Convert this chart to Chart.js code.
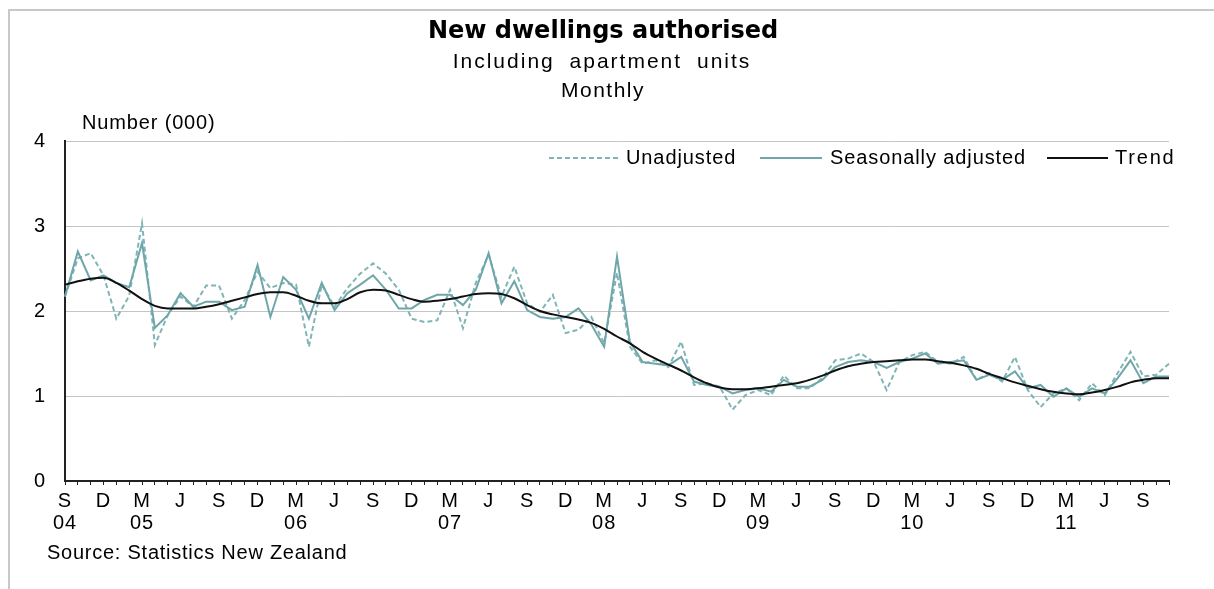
<!DOCTYPE html>
<html>
<head>
<meta charset="utf-8">
<title>New dwellings authorised</title>
<script src="https://cdn.jsdelivr.net/npm/chart.js@4.4.1/dist/chart.umd.min.js"></script>
<style>
  html, body { margin: 0; padding: 0; background: #fff; }
  #wrap { width: 1214px; height: 589px; position: relative; }
</style>
</head>
<body>
<div id="wrap"><canvas id="chart" width="1214" height="589"></canvas></div>
<script>
// Monthly categories, September 2004 to November 2011
const months = [
  '2004-09','2004-10','2004-11','2004-12',
  '2005-01','2005-02','2005-03','2005-04','2005-05','2005-06','2005-07','2005-08','2005-09','2005-10','2005-11','2005-12',
  '2006-01','2006-02','2006-03','2006-04','2006-05','2006-06','2006-07','2006-08','2006-09','2006-10','2006-11','2006-12',
  '2007-01','2007-02','2007-03','2007-04','2007-05','2007-06','2007-07','2007-08','2007-09','2007-10','2007-11','2007-12',
  '2008-01','2008-02','2008-03','2008-04','2008-05','2008-06','2008-07','2008-08','2008-09','2008-10','2008-11','2008-12',
  '2009-01','2009-02','2009-03','2009-04','2009-05','2009-06','2009-07','2009-08','2009-09','2009-10','2009-11','2009-12',
  '2010-01','2010-02','2010-03','2010-04','2010-05','2010-06','2010-07','2010-08','2010-09','2010-10','2010-11','2010-12',
  '2011-01','2011-02','2011-03','2011-04','2011-05','2011-06','2011-07','2011-08','2011-09','2011-10','2011-11'
];

// Dwellings authorised, thousands
const unadjusted = [
  2.17, 2.62, 2.68, 2.42,
  1.91, 2.18, 3.03, 1.60, 1.95, 2.17, 2.05, 2.30, 2.30, 1.91, 2.13, 2.46,
  2.27, 2.33, 2.31, 1.58, 2.31, 2.05, 2.27, 2.44, 2.56, 2.44, 2.25, 1.91,
  1.87, 1.89, 2.25, 1.80, 2.33, 2.66, 2.17, 2.52, 2.09, 1.99, 2.19, 1.74,
  1.78, 1.93, 1.62, 2.45, 1.58, 1.38, 1.42, 1.34, 1.64, 1.13, 1.15, 1.11,
  0.84, 1.01, 1.07, 1.01, 1.24, 1.09, 1.09, 1.21, 1.42, 1.44, 1.50, 1.40,
  1.07, 1.40, 1.48, 1.52, 1.40, 1.38, 1.46, 1.19, 1.27, 1.17, 1.46, 1.07,
  0.87, 1.03, 1.09, 0.95, 1.15, 1.01, 1.27, 1.52, 1.23, 1.25, 1.38
];

const seasonallyAdjusted = [
  2.17, 2.70, 2.36, 2.42,
  2.33, 2.28, 2.80, 1.80, 1.95, 2.21, 2.05, 2.11, 2.11, 2.01, 2.05, 2.54,
  1.93, 2.40, 2.25, 1.91, 2.33, 2.01, 2.21, 2.31, 2.42, 2.25, 2.03, 2.03,
  2.13, 2.19, 2.19, 2.07, 2.25, 2.68, 2.09, 2.35, 2.01, 1.93, 1.91, 1.93,
  2.03, 1.84, 1.58, 2.64, 1.64, 1.40, 1.38, 1.36, 1.46, 1.17, 1.13, 1.11,
  1.03, 1.07, 1.09, 1.05, 1.19, 1.11, 1.11, 1.19, 1.34, 1.40, 1.42, 1.40,
  1.33, 1.40, 1.44, 1.50, 1.38, 1.40, 1.42, 1.19, 1.25, 1.19, 1.29, 1.09,
  1.13, 0.99, 1.09, 0.99, 1.09, 1.03, 1.21, 1.42, 1.15, 1.23, 1.23
];

const trend = [
  2.31, 2.35, 2.38, 2.39,
  2.33, 2.24, 2.14, 2.06, 2.03, 2.03, 2.03, 2.05, 2.08, 2.12, 2.16, 2.20,
  2.22, 2.22, 2.18, 2.12, 2.09, 2.09, 2.14, 2.22, 2.25, 2.24, 2.19, 2.14,
  2.11, 2.12, 2.14, 2.17, 2.20, 2.21, 2.20, 2.15, 2.07, 2.00, 1.96, 1.93,
  1.90, 1.86, 1.79, 1.70, 1.62, 1.52, 1.44, 1.37, 1.30, 1.22, 1.15, 1.10,
  1.08, 1.08, 1.09, 1.11, 1.13, 1.15, 1.19, 1.24, 1.30, 1.35, 1.38, 1.40,
  1.41, 1.42, 1.43, 1.43, 1.41, 1.39, 1.36, 1.32, 1.26, 1.21, 1.16, 1.12,
  1.08, 1.05, 1.03, 1.02, 1.04, 1.07, 1.11, 1.16, 1.19, 1.21, 1.21
];

// Quarter-month letters shown on the time axis; years appear under March
const monthLetters = { '03': 'M', '06': 'J', '09': 'S', '12': 'D' };
const yTicks = [0, 1, 2, 3, 4];

const seriesNames = ['Unadjusted', 'Seasonally adjusted', 'Trend'];
const titleText = 'New dwellings authorised';
const subtitleLines = ['Including apartment units', 'Monthly'];
const unitText = 'Number (000)';
const sourceText = 'Source: Statistics New Zealand';

const FONT = '"Liberation Sans", Arial, Helvetica, sans-serif';
const TITLE_FONT = '"DejaVu Sans", Verdana, sans-serif';

function axisLabel(idx) {
  const [yr, mo] = months[idx].split('-');
  const letter = monthLetters[mo];
  if (!letter) return '';
  if (mo === '03' || idx === 0) return [letter, yr.slice(2)];
  return letter;
}

function drawText(ctx, str, x, y, font, spacing, align, wordGap) {
  ctx.font = font;
  ctx.letterSpacing = spacing;
  ctx.wordSpacing = wordGap || '0px';
  ctx.textAlign = align;
  ctx.textBaseline = 'middle';
  ctx.fillStyle = '#000';
  ctx.fillText(str, x, y);
}

const decor = {
  id: 'decor',
  beforeDraw(chart) {
    const ctx = chart.ctx;
    ctx.fillStyle = '#fff';
    ctx.fillRect(0, 0, chart.width, chart.height);
    ctx.letterSpacing = '1px';
  },
  afterDraw(chart) {
    const ctx = chart.ctx;
    ctx.save();
    // outer frame
    ctx.strokeStyle = '#c8c8c8';
    ctx.lineWidth = 2;
    ctx.beginPath();
    ctx.moveTo(9, chart.height);
    ctx.lineTo(9, 10);
    ctx.lineTo(chart.width, 10);
    ctx.stroke();

    // headings
    drawText(ctx, titleText, 603, 32, 'bold 24px ' + TITLE_FONT, '0px', 'center');
    drawText(ctx, subtitleLines[0], 602, 62, '21px ' + FONT, '2px', 'center', '7px');
    drawText(ctx, subtitleLines[1], 603, 91, '21px ' + FONT, '1.5px', 'center');
    drawText(ctx, unitText, 82, 123, '20px ' + FONT, '0.85px', 'left');
    drawText(ctx, sourceText, 47, 553, '20px ' + FONT, '0.75px', 'left');

    // legend inside the plot area
    const slots = [
      { x0: 549, x1: 620, tx: 626 },
      { x0: 760, x1: 822, tx: 830 },
      { x0: 1047, x1: 1108, tx: 1115 }
    ];
    const ly = 158;
    chart.data.datasets.forEach((ds, i) => {
      const s = slots[i];
      ctx.save();
      ctx.strokeStyle = ds.borderColor;
      ctx.lineWidth = ds.borderWidth;
      ctx.setLineDash(ds.borderDash || []);
      ctx.beginPath();
      ctx.moveTo(s.x0, ly);
      ctx.lineTo(s.x1, ly);
      ctx.stroke();
      ctx.restore();
      drawText(ctx, ds.label, s.tx, ly, '20px ' + FONT, i === 2 ? '1.8px' : '0.9px', 'left');
    });
    ctx.restore();
  }
};

Chart.defaults.font.family = FONT;
Chart.defaults.font.size = 20;
Chart.defaults.color = '#000';

new Chart(document.getElementById('chart'), {
  type: 'line',
  data: {
    labels: months,
    datasets: [
      {
        label: seriesNames[0],
        data: unadjusted,
        borderColor: '#80b4b6',
        borderWidth: 2,
        borderDash: [5, 3],
        pointRadius: 0,
        tension: 0,
        order: 2
      },
      {
        label: seriesNames[1],
        data: seasonallyAdjusted,
        borderColor: '#6fa6a9',
        borderWidth: 2,
        pointRadius: 0,
        tension: 0,
        order: 1
      },
      {
        label: seriesNames[2],
        data: trend,
        borderColor: '#111111',
        borderWidth: 2,
        pointRadius: 0,
        cubicInterpolationMode: 'monotone',
        order: 0
      }
    ]
  },
  options: {
    responsive: false,
    animation: false,
    events: [],
    layout: { padding: { left: 0, right: 45, top: 141, bottom: 48 } },
    plugins: {
      legend: { display: false },
      title: { display: false },
      tooltip: { enabled: false }
    },
    scales: {
      x: {
        type: 'category',
        offset: false,
        afterFit(scale) { scale.height = 60; },
        grid: {
          drawOnChartArea: false,
          drawTicks: true,
          tickLength: 4,
          color: '#222',
          lineWidth: 1
        },
        border: { color: '#222', width: 2 },
        ticks: {
          autoSkip: false,
          maxRotation: 0,
          minRotation: 0,
          padding: 5,
          font: { size: 20, lineHeight: 1.1 },
          callback: (value, idx) => axisLabel(idx)
        }
      },
      y: {
        min: yTicks[0],
        max: yTicks[yTicks.length - 1],
        afterFit(scale) { scale.width = 65; },
        afterBuildTicks(scale) { scale.ticks = yTicks.map(v => ({ value: v })); },
        grid: {
          drawTicks: false,
          color: ctx => (ctx.tick && ctx.tick.value === 0 ? 'rgba(0,0,0,0)' : '#c4c4c4'),
          lineWidth: 1
        },
        border: { color: '#222', width: 2 },
        ticks: {
          padding: 19,
          font: { size: 20 },
          callback: v => String(v)
        }
      }
    }
  },
  plugins: [decor]
});
</script>
</body>
</html>
